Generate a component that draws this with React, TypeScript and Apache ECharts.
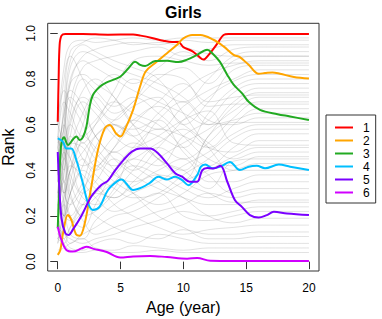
import React, { useEffect, useRef } from "react";
import * as echarts from "echarts";

const X_TICKS = [0, 5, 10, 15, 20];
const Y_TICKS = [0, 0.2, 0.4, 0.6, 0.8, 1.0];
const LEGEND_NAMES = ["1", "2", "3", "4", "5", "6"];
const COLORS = ["#FF0000", "#FFA500", "#22AA22", "#00BFFF", "#7A00FF", "#D000FF"];

const SERIES_1 = [[0,0.613],[0.07,0.8],[0.15,0.95],[0.3,0.99],[0.6,0.997],[2,0.997],[4,0.994],[6,0.995],[6.6,0.99],[7.5,0.98],[8.4,0.968],[9.1,0.962],[9.6,0.962],[10,0.94],[10.7,0.922],[11.2,0.9],[11.6,0.885],[12,0.905],[12.7,0.955],[13.2,0.993],[13.6,0.997],[20,0.997]];
const SERIES_2 = [[0,0.03],[0.2,0.05],[0.42,0.124],[0.8,0.204],[1.08,0.183],[1.45,0.12],[1.75,0.113],[2.15,0.168],[2.67,0.328],[3.2,0.489],[3.74,0.584],[4.13,0.598],[4.66,0.56],[5.0,0.548],[5.4,0.585],[6.0,0.665],[6.56,0.768],[7.0,0.833],[7.76,0.87],[8.7,0.913],[9.5,0.95],[10.0,0.978],[10.7,0.993],[11.35,0.993],[12.4,0.972],[13.2,0.943],[14.0,0.906],[14.5,0.896],[15.2,0.862],[16.0,0.823],[16.5,0.826],[17.1,0.829],[17.7,0.823],[18.8,0.809],[20,0.802]];
const SERIES_3 = [[0,0.146],[0.1,0.3],[0.25,0.5],[0.5,0.545],[0.82,0.511],[1.22,0.536],[1.48,0.548],[1.75,0.533],[2.0,0.545],[2.28,0.591],[2.54,0.679],[2.8,0.73],[3.37,0.767],[3.9,0.785],[4.97,0.81],[5.63,0.847],[6.16,0.876],[6.56,0.862],[6.96,0.857],[7.76,0.879],[8.7,0.88],[9.6,0.874],[10.3,0.885],[11.1,0.906],[11.9,0.928],[12.3,0.913],[12.9,0.876],[13.5,0.818],[14.0,0.775],[14.66,0.738],[15.2,0.7],[16.1,0.665],[17.5,0.646],[18.5,0.636],[20,0.62]];
const SERIES_4 = [[0,0.54],[0.4,0.526],[0.69,0.496],[1.08,0.496],[1.48,0.445],[2.0,0.343],[2.41,0.256],[2.8,0.226],[3.34,0.241],[4.0,0.314],[4.8,0.355],[5.1,0.36],[5.4,0.346],[6.0,0.314],[6.7,0.325],[7.36,0.346],[8.0,0.372],[8.7,0.36],[9.35,0.372],[9.9,0.357],[10.4,0.335],[11.1,0.379],[11.4,0.416],[11.75,0.426],[12.3,0.409],[12.95,0.416],[13.7,0.437],[14.5,0.401],[15.2,0.416],[15.85,0.42],[16.5,0.409],[17.6,0.425],[18.5,0.416],[20,0.401]];
const SERIES_5 = [[0,0.48],[0.12,0.33],[0.3,0.19],[0.6,0.125],[0.87,0.117],[1.2,0.14],[1.88,0.2],[2.67,0.285],[3.47,0.336],[4.0,0.355],[4.57,0.4],[5.23,0.445],[5.9,0.482],[6.56,0.496],[7.36,0.496],[8.0,0.474],[8.7,0.43],[9.35,0.387],[9.9,0.372],[10.5,0.35],[11.1,0.35],[11.5,0.4],[11.9,0.41],[12.4,0.408],[12.95,0.42],[13.5,0.35],[14.1,0.27],[14.66,0.24],[15.3,0.204],[16.0,0.193],[16.65,0.204],[17.2,0.218],[18.25,0.211],[20,0.204]];
const SERIES_6 = [[0,0.153],[0.29,0.095],[0.69,0.051],[1.2,0.044],[1.9,0.058],[2.3,0.065],[2.84,0.056],[3.9,0.042],[4.97,0.018],[6.0,0.023],[7.36,0.025],[8.7,0.02],[10.3,0.013],[11.1,0.016],[12.14,0.004],[14,0.003],[20,0.003]];
const HIGHLIGHT = [SERIES_1, SERIES_2, SERIES_3, SERIES_4, SERIES_5, SERIES_6];

const GRAY_AGES = [0, 0.5, 1, 2, 3, 4.5, 6, 8, 10, 12, 14, 16, 20];
const GRAY_LINES = [
  [0.35,0.6,0.8,0.9,0.93,0.95,0.96,0.95,0.97,0.96,0.97,0.97,0.97],
  [0.2,0.45,0.7,0.85,0.88,0.9,0.92,0.94,0.9,0.93,0.95,0.95,0.95],
  [0.45,0.3,0.5,0.65,0.75,0.82,0.78,0.85,0.92,0.88,0.93,0.94,0.94],
  [0.5,0.7,0.65,0.55,0.6,0.7,0.8,0.75,0.7,0.8,0.9,0.92,0.92],
  [0.15,0.25,0.4,0.6,0.72,0.65,0.7,0.8,0.85,0.78,0.88,0.9,0.9],
  [0.3,0.2,0.25,0.35,0.5,0.6,0.55,0.65,0.75,0.82,0.86,0.88,0.88],
  [0.55,0.8,0.9,0.8,0.7,0.62,0.68,0.72,0.6,0.7,0.84,0.86,0.86],
  [0.1,0.15,0.3,0.45,0.4,0.5,0.62,0.58,0.68,0.75,0.8,0.84,0.84],
  [0.4,0.55,0.45,0.3,0.35,0.45,0.4,0.5,0.62,0.72,0.79,0.82,0.82],
  [0.25,0.4,0.6,0.75,0.8,0.72,0.6,0.55,0.5,0.65,0.76,0.8,0.8],
  [0.6,0.5,0.35,0.25,0.3,0.38,0.45,0.42,0.55,0.62,0.74,0.78,0.78],
  [0.08,0.3,0.55,0.7,0.65,0.55,0.5,0.62,0.7,0.6,0.7,0.76,0.76],
  [0.45,0.65,0.75,0.68,0.55,0.48,0.52,0.45,0.4,0.55,0.68,0.74,0.74],
  [0.2,0.1,0.15,0.25,0.3,0.28,0.35,0.45,0.52,0.58,0.66,0.72,0.72],
  [0.35,0.45,0.3,0.2,0.22,0.3,0.4,0.5,0.45,0.52,0.63,0.7,0.7],
  [0.5,0.35,0.2,0.15,0.25,0.4,0.5,0.58,0.55,0.5,0.6,0.67,0.67],
  [0.15,0.5,0.78,0.88,0.85,0.8,0.75,0.7,0.65,0.6,0.62,0.65,0.65],
  [0.3,0.6,0.85,0.92,0.9,0.85,0.82,0.78,0.72,0.62,0.6,0.63,0.63],
  [0.4,0.25,0.12,0.1,0.18,0.25,0.3,0.35,0.42,0.48,0.56,0.6,0.6],
  [0.55,0.4,0.55,0.45,0.38,0.32,0.28,0.3,0.38,0.45,0.54,0.58,0.58],
  [0.12,0.2,0.35,0.55,0.62,0.7,0.65,0.6,0.5,0.42,0.5,0.56,0.56],
  [0.6,0.75,0.7,0.6,0.48,0.42,0.45,0.52,0.58,0.5,0.48,0.53,0.53],
  [0.25,0.15,0.08,0.12,0.15,0.2,0.22,0.28,0.35,0.4,0.46,0.5,0.5],
  [0.45,0.6,0.5,0.42,0.45,0.55,0.62,0.68,0.6,0.52,0.45,0.48,0.48],
  [0.3,0.45,0.65,0.8,0.75,0.68,0.72,0.65,0.55,0.45,0.42,0.46,0.46],
  [0.18,0.25,0.2,0.3,0.42,0.35,0.3,0.25,0.3,0.38,0.4,0.43,0.43],
  [0.5,0.65,0.88,0.95,0.92,0.88,0.85,0.8,0.65,0.5,0.4,0.4,0.4],
  [0.35,0.3,0.4,0.52,0.45,0.38,0.35,0.4,0.45,0.35,0.35,0.38,0.38],
  [0.1,0.08,0.15,0.22,0.28,0.35,0.42,0.38,0.32,0.28,0.32,0.35,0.35],
  [0.55,0.45,0.62,0.72,0.68,0.6,0.58,0.62,0.48,0.38,0.3,0.32,0.32],
  [0.22,0.35,0.28,0.18,0.12,0.15,0.18,0.22,0.25,0.3,0.28,0.3,0.3],
  [0.4,0.55,0.72,0.65,0.55,0.45,0.38,0.32,0.28,0.25,0.25,0.27,0.27],
  [0.15,0.12,0.1,0.08,0.1,0.12,0.15,0.18,0.22,0.2,0.22,0.24,0.24],
  [0.3,0.5,0.45,0.35,0.28,0.22,0.25,0.3,0.2,0.18,0.2,0.22,0.22],
  [0.45,0.3,0.25,0.32,0.4,0.48,0.42,0.35,0.28,0.2,0.17,0.19,0.19],
  [0.08,0.18,0.3,0.4,0.35,0.25,0.2,0.15,0.12,0.14,0.15,0.16,0.16],
  [0.25,0.2,0.18,0.25,0.2,0.15,0.12,0.1,0.14,0.12,0.12,0.13,0.13],
  [0.5,0.35,0.45,0.55,0.5,0.4,0.3,0.2,0.15,0.1,0.1,0.11,0.11],
  [0.12,0.1,0.06,0.05,0.08,0.1,0.08,0.12,0.1,0.08,0.08,0.08,0.08],
  [0.05,0.06,0.08,0.1,0.06,0.05,0.07,0.06,0.05,0.06,0.06,0.06,0.06],
  [0.2,0.08,0.05,0.04,0.05,0.04,0.04,0.05,0.04,0.04,0.04,0.04,0.04],
  [0.6,0.85,0.95,0.97,0.96,0.97,0.98,0.97,0.98,0.98,0.98,0.98,0.98],
  [0.35,0.7,0.92,0.96,0.98,0.97,0.95,0.96,0.94,0.91,0.9,0.9,0.9],
  [0.28,0.5,0.6,0.52,0.6,0.75,0.88,0.9,0.88,0.86,0.87,0.87,0.87],
  [0.18,0.38,0.52,0.5,0.42,0.5,0.6,0.7,0.78,0.7,0.72,0.73,0.73],
  [0.42,0.2,0.3,0.42,0.55,0.62,0.7,0.82,0.8,0.68,0.69,0.69,0.69],
  [0.1,0.22,0.42,0.38,0.32,0.28,0.33,0.38,0.36,0.55,0.61,0.61,0.61],
  [0.38,0.48,0.38,0.28,0.25,0.32,0.48,0.55,0.62,0.66,0.52,0.51,0.51],
  [0.52,0.58,0.78,0.82,0.78,0.72,0.6,0.45,0.4,0.32,0.44,0.45,0.45],
  [0.22,0.28,0.4,0.48,0.55,0.6,0.55,0.45,0.35,0.3,0.26,0.26,0.26],
];

const FONT = "'Liberation Sans', Arial, Helvetica, sans-serif";

export default function App() {
  const ref = useRef<HTMLDivElement>(null);
  useEffect(() => {
    if (!ref.current) return;
    const chart = echarts.init(ref.current, null, { renderer: "svg" });
    const graySeries = GRAY_LINES.map((line, k) => ({
      name: "bg" + k,
      type: "line",
      data: GRAY_AGES.map((a, i) => [a, line[i]]),
      smooth: 0.4,
      symbol: "none",
      silent: true,
      z: 1,
      lineStyle: { color: "rgba(95,95,95,0.3)", width: 0.6 },
      emphasis: { disabled: true },
    }));
    const colored = HIGHLIGHT.map((d, k) => ({
      name: LEGEND_NAMES[k],
      type: "line",
      data: d,
      smooth: 0.35,
      symbol: "none",
      z: 3,
      color: COLORS[k],
      lineStyle: { color: COLORS[k], width: 2 },
      emphasis: { disabled: true },
    }));
    chart.setOption({
      animation: false,
      textStyle: { fontFamily: FONT },
      title: {
        text: "Girls",
        left: 183.3,
        top: 4,
        padding: 0,
        textAlign: "center",
        textStyle: { fontSize: 16, fontWeight: "bold", color: "#000", fontFamily: FONT },
      },
      grid: {
        left: 47.7,
        top: 23.3,
        width: 271.3,
        height: 247.7,
        containLabel: false,
        outerBoundsMode: "none",
        show: true,
        borderColor: "#333",
        borderWidth: 1,
        backgroundColor: "transparent",
      },
      legend: {
        data: LEGEND_NAMES,
        orient: "vertical",
        left: 326,
        top: 115,
        padding: [6, 6, 4, 9],
        itemWidth: 18,
        itemHeight: 2,
        itemGap: 0,
        icon: "rect",
        borderColor: "#333",
        borderWidth: 1,
        textStyle: { fontSize: 12, lineHeight: 13, color: "#000", padding: [0, 0, 0, 5], fontFamily: FONT },
      },
      xAxis: {
        type: "value",
        min: -0.8,
        max: 20.8,
        name: "Age (year)",
        nameLocation: "middle",
        nameGap: 28.5,
        nameTextStyle: { fontSize: 16, color: "#000", fontFamily: FONT },
        axisLine: { show: false },
        splitLine: { show: false },
        axisTick: { show: true, customValues: X_TICKS, length: 7.5, lineStyle: { color: "#333" } },
        axisLabel: { customValues: X_TICKS, fontSize: 12, color: "#000", margin: 11, fontFamily: FONT },
      },
      yAxis: {
        type: "value",
        min: -0.041,
        max: 1.044,
        name: "Rank",
        nameLocation: "middle",
        nameGap: 27,
        nameTextStyle: { fontSize: 16, color: "#000", fontFamily: FONT },
        axisLine: { show: false },
        splitLine: { show: false },
        axisTick: { show: true, customValues: Y_TICKS, length: 7.5, lineStyle: { color: "#333" } },
        axisLabel: {
          customValues: Y_TICKS,
          rotate: 90,
          fontSize: 12,
          color: "#000",
          margin: 11,
          fontFamily: FONT,
          formatter: (v: number) => v.toFixed(1),
        },
      },
      series: [...graySeries, ...colored],
    });
    return () => chart.dispose();
  }, []);
  return (
    <div
      ref={ref}
      style={{ position: "absolute", left: 0, top: 0, width: 382, height: 319, background: "#fff" }}
    />
  );
}
